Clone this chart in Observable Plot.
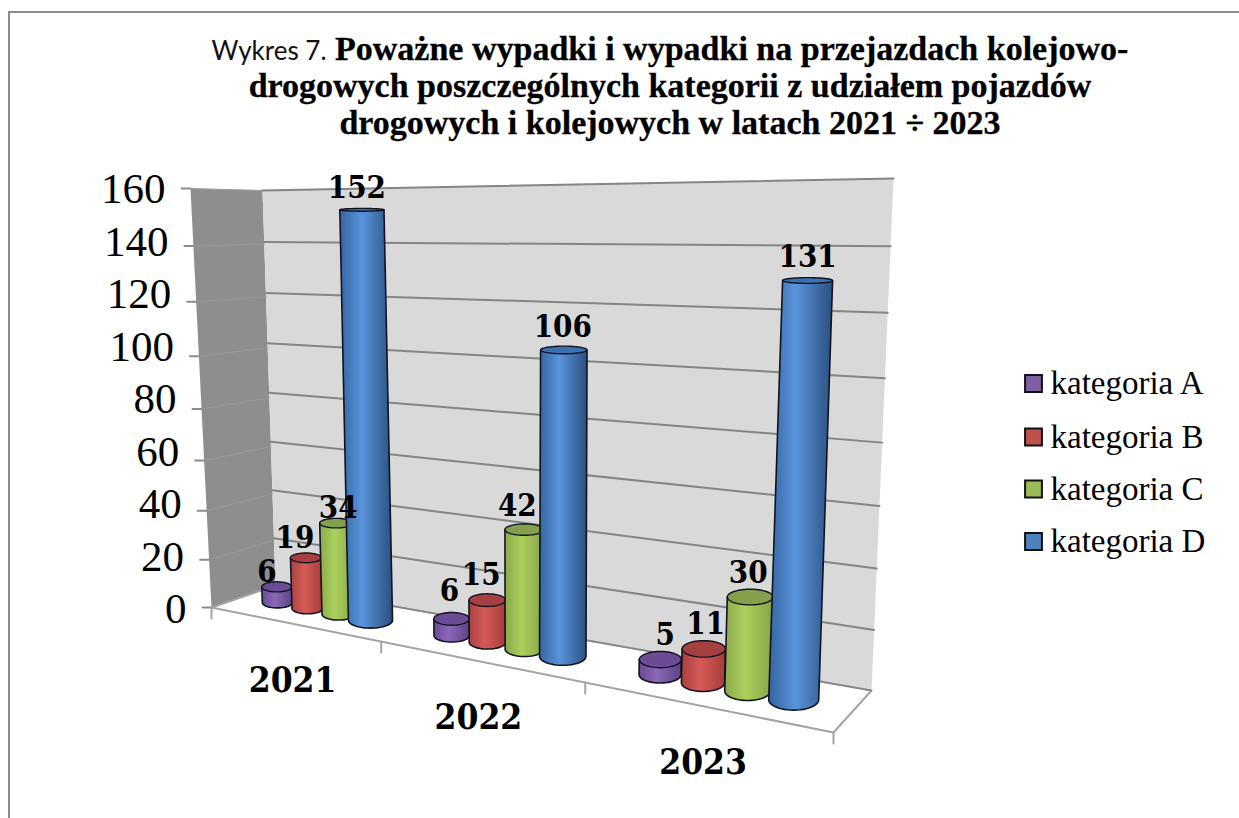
<!DOCTYPE html>
<html lang="pl"><head><meta charset="utf-8">
<script src="https://cdn.jsdelivr.net/npm/d3@7"></script>
<script src="https://cdn.jsdelivr.net/npm/@observablehq/plot@0.6"></script>
<style>
html,body{margin:0;padding:0;background:#fff;overflow:hidden}
#frame{position:absolute;left:8px;top:11px;width:1240px;height:820px;border-left:2px solid #8c8c8c;border-top:2px solid #8c8c8c}
#chart{position:absolute;left:0;top:0}
#title{position:absolute;left:170px;top:30px;width:1000px;text-align:center;font:bold 34px/37px "Liberation Serif",serif;color:#000;-webkit-text-stroke:.3px #000}
#title .lead{font:normal 26px Lato,sans-serif;color:#111;-webkit-text-stroke:0}
.cond text{font-stretch:condensed}
</style></head><body>
<div id="frame"></div>
<div id="chart"></div>
<div id="title"><span class="lead">Wykres 7.</span> Poważne wypadki i wypadki na przejazdach kolejowo-<br>drogowych poszczególnych kategorii z udziałem pojazdów<br>drogowych i kolejowych w latach 2021 ÷ 2023</div>
<script>
const years = ["2021", "2022", "2023"];
const categories = ["kategoria A", "kategoria B", "kategoria C", "kategoria D"];
const kategoriaA = [6, 6, 5];
const kategoriaB = [19, 15, 11];
const kategoriaC = [34, 42, 30];
const kategoriaD = [152, 106, 131];
const yTicks = [0, 20, 40, 60, 80, 100, 120, 140, 160];

const seriesValues = [kategoriaA, kategoriaB, kategoriaC, kategoriaD];
const gradientStops = [
  ["#6b4a94", "#8a68b8", "#5e4184"],
  ["#a8403d", "#d65b57", "#a33d3a"],
  ["#8aa84a", "#abd05c", "#87a348"],
  ["#35659f", "#5a94dc", "#2a4f7e"]
];
const topColors = ["#6a4b94", "#a5403e", "#84a04c", "#3d70ae"];
const swatchColors = ["#7d5fa6", "#c0504d", "#9bbb59", "#4f81bd"];

// 3D scene projection: data-space (position along the axis, depth, value) -> scene coordinates
function homography([[x0,y0],[x1,y1],[x2,y2],[x3,y3]]) {
  const dx1=x1-x2, dx2=x3-x2, sx=x0-x1+x2-x3, dy1=y1-y2, dy2=y3-y2, sy=y0-y1+y2-y3;
  const den=dx1*dy2-dx2*dy1, g=(sx*dy2-dx2*sy)/den, h=(dx1*sy-sx*dy1)/den;
  const a=x1-x0+g*x1, b=x3-x0+h*x3, d=y1-y0+g*y1, e=y3-y0+h*y3;
  return (u,v)=>{const w=g*u+h*v+1; return [(a*u+b*v+x0)/w,(d*u+e*v+y0)/w];};
}
const FL=[211,607], FR=[833,732], BR=[871,690], BL=[275,585], TR=[893,178], TL=[262,190], TF=[190,188];
const floorRaw = homography([FL,FR,BR,BL]);
const floor3d = (u,w)=>floorRaw(u+0.095*u*(1-u),w);
const backWall = homography([BL,BR,TR,TL]);
const leftWall = homography([FL,BL,TL,TF]);
const vanish=[535,8500];

const Y0=609, Y160=189;
const toValue = p => (Y0-p)*160/(Y0-Y160);  // scene pixel row -> value axis of the y scale

const poly = (pts,opts) => Plot.line(pts.map(([x,y])=>({x,y:toValue(y)})),{x:"x",y:"y",...opts});

function flatness(y){return Math.max(0.05,0.05+0.00072*(y-190));}
function cylinder(c,s,value){
  const u=(c+(0.7+s+0.5)/5.4)/3;
  const [bx0,by]=floor3d(u,0.5);
  const bx=bx0-2;
  const r=15+0.0156*(bx-275)+[0,0,0.5,7-5.5*u][s];
  const h=value*(2.70+0.57*(u-0.259)+0.54*(u-0.259)*(u-0.592));
  const tx=bx+(bx-vanish[0])*h/(vanish[1]-by), ty=by-h;
  const ryB=r*flatness(by), ryT=r*flatness(ty);
  const ts=d3.range(0,25).map(i=>i/24*Math.PI);
  const body=[[bx-r,by],[tx-r,ty],[tx+r,ty],...ts.map(t=>[bx+r*Math.cos(t),by+ryB*Math.sin(t)])];
  body.push(body[0]);
  const top=d3.range(0,49).map(i=>{const t=i/48*2*Math.PI;return [tx+r*Math.cos(t),ty+ryT*Math.sin(t)];});
  return {body,top,tx,ty,ryT};
}

const labelNudge=[[[-10,-15],[-11,-20],[2,-15],[-5,-22]],[[-2,-28],[-6,-25],[-7,-24],[-1,-23]],[[5,-24],[2,-25],[-2,-24],[0,-23]]];
const ink="#0f1420";
const marks=[];

// gradient definitions
marks.push(()=>{
  const defs=d3.create("svg:defs");
  gradientStops.forEach((st,i)=>{
    const g=defs.append("linearGradient").attr("id","cyl"+i).attr("x1",0).attr("x2",1).attr("y1",0).attr("y2",0);
    [[0,st[0]],[0.42,st[1]],[1,st[2]]].forEach(([o,col])=>g.append("stop").attr("offset",o).attr("stop-color",col));
  });
  return defs.node();
});

// walls and floor
marks.push(poly([TF,TL,BL,FL,TF],{fill:"#8e8e8e",stroke:"none"}));
marks.push(poly([TL,TR,BR,BL,TL],{fill:"#d9d9d9",stroke:"none"}));
marks.push(poly([FL,FR,BR,BL,FL],{fill:"#fff",stroke:"#a3a3a3",strokeWidth:2}));
for(const v of yTicks){
  marks.push(poly([leftWall(0,v/160),leftWall(1,v/160)],{stroke:v===0?"#a3a3a3":"#9b9b9b",strokeWidth:1}));
  marks.push(poly([backWall(0,v/160),backWall(1,v/160)],{stroke:"#858585",strokeWidth:v===0?1.5:2}));
  const e=leftWall(0,v/160);
  marks.push(poly([[e[0]-9,e[1]],e],{stroke:"#8c8c8c",strokeWidth:2}));
}
[0,1,2,3].forEach(i=>{
  const p=floor3d(i/3,0);
  marks.push(poly([p,[p[0],p[1]+11]],{stroke:"#a3a3a3",strokeWidth:2}));
});

// value axis labels
marks.push(Plot.text(yTicks,{
  x:v=>leftWall(0,v/160)[0]-25,y:v=>v,text:v=>String(v),textAnchor:"end",
  fontFamily:"Liberation Serif",fontSize:43,fill:"#000"
}));

// cylinders
const labels=[];
years.forEach((yr,c)=>{
  seriesValues.forEach((vals,s)=>{
    const cyl=cylinder(c,s,vals[c]);
    marks.push(poly(cyl.body,{fill:`url(#cyl${s})`,stroke:ink,strokeWidth:1.6}));
    marks.push(poly(cyl.top,{fill:topColors[s],stroke:ink,strokeWidth:1.4}));
    const [ndx,ndy]=labelNudge[c][s];
    labels.push({x:cyl.tx+ndx,y:toValue(cyl.ty+ndy),t:String(vals[c])});
  });
});
marks.push(Plot.text(labels,{x:"x",y:"y",text:"t",fontFamily:"DejaVu Serif Condensed, DejaVu Serif",fontWeight:"bold",fontSize:31,fill:"#000",className:"cond"}));

// year labels
marks.push(Plot.text(years,{
  x:(d,i)=>floor3d((i+0.5)/3,0)[0],
  y:(d,i)=>toValue(floor3d((i+0.5)/3,0)[1]+57),
  text:d=>d,fontFamily:"DejaVu Serif Condensed, DejaVu Serif",fontWeight:"bold",fontSize:35,fill:"#000",className:"cond"
}));

// legend
const legendRows=[383,436.5,488.5,541];
marks.push(Plot.dot(categories,{
  x:()=>1033,y:(d,i)=>toValue(legendRows[i]),symbol:"square",r:9.5,
  fill:(d,i)=>swatchColors[i],stroke:"#111",strokeWidth:2
}));
marks.push(Plot.text(categories,{
  x:()=>1050,y:(d,i)=>toValue(legendRows[i]),text:d=>d,textAnchor:"start",
  fontFamily:"Liberation Serif",fontSize:33,fill:"#000"
}));

const chart=Plot.plot({
  width:1239,height:818,margin:0,
  style:{background:"transparent",overflow:"visible"},
  x:{type:"linear",domain:[0,1239],range:[0,1239],axis:null},
  y:{type:"linear",domain:[0,160],range:[Y0,Y160],axis:null},
  marks
});
document.getElementById("chart").append(chart);
</script>
</body></html>
